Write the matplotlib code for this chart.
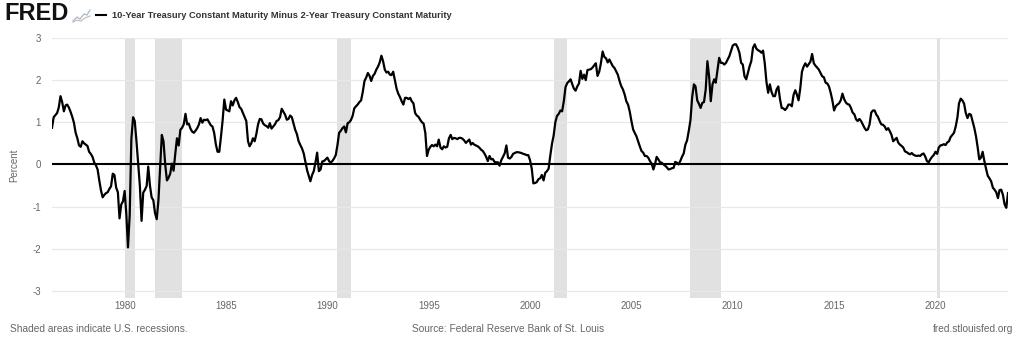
import matplotlib
matplotlib.use("Agg")
import matplotlib.pyplot as plt
import pandas as pd
import numpy as np
from matplotlib.lines import Line2D

# ---------------- data (monthly, 1976-06 .. 2023-08) ----------------
start_month = "1976-06-01"
y1976 = [0.87, 1.12, 1.17, 1.22, 1.35, 1.62, 1.48]
y1977 = [1.26, 1.40, 1.42, 1.35, 1.25, 1.13, 0.99, 0.75, 0.62, 0.45, 0.42, 0.55]
y1978 = [0.50, 0.47, 0.44, 0.30, 0.25, 0.18, 0.05, -0.02, -0.12, -0.38, -0.62, -0.78]
y1979 = [-0.72, -0.68, -0.66, -0.58, -0.52, -0.22, -0.25, -0.55, -0.66, -1.28, -0.95, -0.88]
y1980 = [-0.63, -1.20, -1.97, -1.20, 0.60, 1.12, 1.03, 0.55, 0.00, -0.50, -1.34, -0.67]
y1981 = [-0.60, -0.51, -0.05, -0.50, -0.78, -0.85, -1.15, -1.30, -0.85, -0.10, 0.70, 0.55]
y1982 = [0.00, -0.38, -0.32, -0.22, 0.02, -0.15, 0.25, 0.62, 0.45, 0.82, 0.87, 0.95]
y1983 = [1.20, 0.95, 0.97, 0.85, 0.78, 0.75, 0.80, 0.86, 0.95, 1.10, 0.99, 1.06]
y1984 = [1.05, 1.07, 1.00, 0.93, 0.90, 0.75, 0.48, 0.30, 0.30, 0.65, 1.05, 1.54]
y1985 = [1.30, 1.28, 1.26, 1.50, 1.40, 1.52, 1.58, 1.48, 1.36, 1.32, 1.22, 1.12]
y1986 = [1.03, 0.55, 0.43, 0.50, 0.62, 0.55, 0.72, 0.95, 1.08, 1.07, 0.97, 0.93]
y1987 = [0.91, 0.87, 0.98, 0.85, 0.90, 0.95, 1.03, 1.05, 1.12, 1.32, 1.25, 1.18]
y1988 = [1.06, 1.08, 1.16, 1.12, 0.97, 0.82, 0.72, 0.55, 0.46, 0.38, 0.26, 0.06]
y1989 = [-0.14, -0.28, -0.40, -0.25, -0.16, 0.05, 0.28, -0.16, -0.12, 0.07, 0.08, 0.12]
y1990 = [0.16, 0.08, 0.04, 0.08, 0.14, 0.22, 0.45, 0.75, 0.80, 0.86, 0.90, 0.76]
y1991 = [0.98, 1.00, 1.05, 1.15, 1.33, 1.38, 1.42, 1.48, 1.52, 1.72, 1.98, 2.06]
y1992 = [2.17, 2.10, 1.98, 2.10, 2.15, 2.25, 2.32, 2.42, 2.58, 2.45, 2.25, 2.18]
y1993 = [2.20, 2.13, 2.12, 2.20, 2.00, 1.80, 1.68, 1.60, 1.50, 1.42, 1.58, 1.58]
y1994 = [1.55, 1.58, 1.50, 1.45, 1.22, 1.16, 1.13, 1.06, 1.00, 0.97, 0.75, 0.20]
y1995 = [0.35, 0.42, 0.46, 0.43, 0.47, 0.43, 0.59, 0.40, 0.36, 0.43, 0.40, 0.42]
y1996 = [0.62, 0.70, 0.60, 0.63, 0.62, 0.60, 0.63, 0.63, 0.61, 0.57, 0.51, 0.55]
y1997 = [0.59, 0.47, 0.51, 0.47, 0.45, 0.43, 0.40, 0.35, 0.32, 0.26, 0.18, 0.08]
y1998 = [0.20, 0.12, 0.13, 0.06, 0.05, 0.05, -0.03, 0.10, 0.18, 0.26, 0.45, 0.16]
y1999 = [0.14, 0.18, 0.25, 0.27, 0.29, 0.29, 0.28, 0.27, 0.25, 0.24, 0.22, 0.22]
y2000 = [0.10, -0.10, -0.45, -0.44, -0.42, -0.35, -0.33, -0.25, -0.38, -0.20, -0.16, -0.10]
y2001 = [0.22, 0.50, 0.68, 1.00, 1.15, 1.20, 1.28, 1.26, 1.50, 1.83, 1.93, 1.97]
y2002 = [2.02, 1.90, 1.80, 1.75, 1.85, 1.92, 2.22, 2.03, 2.13, 2.00, 2.24, 2.25]
y2003 = [2.26, 2.30, 2.35, 2.40, 2.10, 2.20, 2.40, 2.68, 2.55, 2.52, 2.42, 2.49]
y2004 = [2.41, 2.33, 2.29, 2.21, 2.13, 1.98, 1.86, 1.78, 1.66, 1.50, 1.42, 1.26]
y2005 = [1.03, 0.83, 0.75, 0.67, 0.55, 0.43, 0.32, 0.28, 0.20, 0.20, 0.16, 0.08]
y2006 = [0.02, -0.12, 0.00, 0.18, 0.12, 0.05, 0.04, 0.00, -0.03, -0.07, -0.12, -0.11]
y2007 = [-0.09, -0.08, 0.06, 0.04, 0.00, 0.08, 0.18, 0.26, 0.47, 0.57, 0.80, 1.05]
y2008 = [1.60, 1.90, 1.85, 1.52, 1.44, 1.34, 1.46, 1.48, 1.78, 2.45, 2.09, 1.50]
y2009 = [1.90, 2.02, 1.94, 2.25, 2.53, 2.41, 2.41, 2.37, 2.41, 2.49, 2.57, 2.69]
y2010 = [2.82, 2.85, 2.85, 2.77, 2.65, 2.41, 2.37, 2.09, 2.02, 2.17, 2.33, 2.45]
y2011 = [2.77, 2.85, 2.75, 2.71, 2.69, 2.65, 2.70, 2.40, 1.95, 1.70, 1.90, 1.72]
y2012 = [1.62, 1.62, 1.78, 1.85, 1.55, 1.34, 1.33, 1.29, 1.34, 1.42, 1.42, 1.38]
y2013 = [1.65, 1.76, 1.66, 1.52, 1.80, 2.20, 2.32, 2.40, 2.32, 2.38, 2.44, 2.62]
y2014 = [2.40, 2.34, 2.30, 2.25, 2.17, 2.09, 2.07, 1.94, 1.92, 1.85, 1.70, 1.52]
y2015 = [1.28, 1.38, 1.42, 1.45, 1.52, 1.68, 1.55, 1.47, 1.43, 1.42, 1.34, 1.23]
y2016 = [1.19, 1.07, 1.03, 1.08, 1.03, 0.95, 0.87, 0.81, 0.83, 0.95, 1.23, 1.28]
y2017 = [1.28, 1.18, 1.13, 1.03, 0.95, 0.94, 0.90, 0.82, 0.86, 0.79, 0.70, 0.55]
y2018 = [0.59, 0.63, 0.52, 0.47, 0.44, 0.40, 0.31, 0.29, 0.26, 0.24, 0.27, 0.23]
y2019 = [0.21, 0.20, 0.21, 0.20, 0.24, 0.26, 0.19, 0.08, 0.05, 0.12, 0.18, 0.22]
y2020 = [0.30, 0.25, 0.40, 0.45, 0.46, 0.48, 0.46, 0.52, 0.55, 0.65, 0.70, 0.75]
y2021 = [0.90, 1.12, 1.45, 1.56, 1.52, 1.44, 1.22, 1.10, 1.20, 1.18, 1.02, 0.87]
y2022 = [0.67, 0.40, 0.12, 0.16, 0.30, 0.08, -0.10, -0.27, -0.33, -0.40, -0.55, -0.60]
y2023 = [-0.66, -0.80, -0.61, -0.60, -0.72, -0.95, -1.03, -0.68]

series_values = (y1976 + y1977 + y1978 + y1979 + y1980 + y1981 + y1982 + y1983 +
                 y1984 + y1985 + y1986 + y1987 + y1988 + y1989 + y1990 + y1991 +
                 y1992 + y1993 + y1994 + y1995 + y1996 + y1997 + y1998 + y1999 +
                 y2000 + y2001 + y2002 + y2003 + y2004 + y2005 + y2006 + y2007 +
                 y2008 + y2009 + y2010 + y2011 + y2012 + y2013 + y2014 + y2015 +
                 y2016 + y2017 + y2018 + y2019 + y2020 + y2021 + y2022 + y2023)

recession_starts = ["1980-01-01", "1981-07-01", "1990-07-01", "2001-03-01", "2007-12-01", "2020-02-01"]
recession_ends = ["1980-07-01", "1982-11-01", "1991-03-01", "2001-11-01", "2009-06-01", "2020-04-01"]

y_ticks = [-3, -2, -1, 0, 1, 2, 3]
x_tick_years = [1980, 1985, 1990, 1995, 2000, 2005, 2010, 2015, 2020]

title = "10-Year Treasury Constant Maturity Minus 2-Year Treasury Constant Maturity"
y_label = "Percent"
footer_left = "Shaded areas indicate U.S. recessions."
footer_mid = "Source: Federal Reserve Bank of St. Louis"
footer_right = "fred.stlouisfed.org"

# ---------------- figure ----------------
plt.rcParams['font.family'] = ['Liberation Sans', 'DejaVu Sans']
W, H = 1024, 349
fig = plt.figure(figsize=(W / 100, H / 100), dpi=100)
fig.patch.set_facecolor("white")

def fx(px):
    return px / W

def fy(py):
    return 1 - py / H

ax_left, ax_right, ax_top, ax_bottom = 52, 1008, 38, 298
ax = fig.add_axes([fx(ax_left), fy(ax_bottom), fx(ax_right - ax_left), fy(ax_top) - fy(ax_bottom)])

dates = pd.date_range(start_month, periods=len(series_values), freq="MS")

for s, e in zip(recession_starts, recession_ends):
    ax.axvspan(pd.Timestamp(s), pd.Timestamp(e), color="#e1e1e1", lw=0, zorder=0)

for t in y_ticks:
    if t != 0:
        ax.axhline(t, color="#e8e8e8", lw=0.9, zorder=1)
ax.axhline(0, color="black", lw=1.5, zorder=2)

ax.plot(dates, series_values, color="black", lw=1.6, zorder=3, solid_joinstyle="round")

ax.set_xlim(dates[0], dates[-1])
ax.set_ylim(-3.17, 3.0)
ax.set_yticks(y_ticks)
ax.set_yticklabels([str(t) for t in y_ticks])
ax.set_xticks([pd.Timestamp(f"{y}-01-01") for y in x_tick_years])
ax.set_xticklabels([str(y) for y in x_tick_years])
ax.tick_params(axis="both", length=0, labelsize=7, labelcolor="#666666")
ax.tick_params(axis="y", pad=8)
ax.tick_params(axis="x", pad=2)
for sp in ax.spines.values():
    sp.set_visible(False)
ax.set_facecolor("white")

fig.text(fx(14), fy(165), y_label, rotation=90, ha="center", va="center", fontsize=7, color="#666666")

# header
fig.text(fx(4), fy(14), "FRED", fontsize=17, fontweight="heavy", color="#111111", ha="left", va="center")
# small logo icon
icon_pts_x = [73, 77, 80, 84, 87, 90]
icon_pts_y = [21, 17, 19, 14, 15, 10]
fig.add_artist(Line2D([fx(v) for v in icon_pts_x], [fy(v) for v in icon_pts_y], color="#a8b8c8", lw=0.9))
fig.add_artist(Line2D([fx(v) for v in [73, 77, 81, 85, 90]], [fy(v) for v in [22, 20, 21, 18, 16]], color="#c0c0c0", lw=0.9))
fig.add_artist(Line2D([fx(96), fx(106)], [fy(15), fy(15)], color="black", lw=1.5))
fig.text(fx(112), fy(15), title, fontsize=6.65, fontweight="bold", color="#333333", ha="left", va="center")

# footer
fig.text(fx(10), fy(329), footer_left, fontsize=7.3, color="#666666", ha="left", va="center")
fig.text(fx(508), fy(329), footer_mid, fontsize=7.3, color="#666666", ha="center", va="center")
fig.text(fx(1013), fy(329), footer_right, fontsize=7.3, color="#666666", ha="right", va="center")

fig.savefig("out.png", dpi=100, facecolor="white")
